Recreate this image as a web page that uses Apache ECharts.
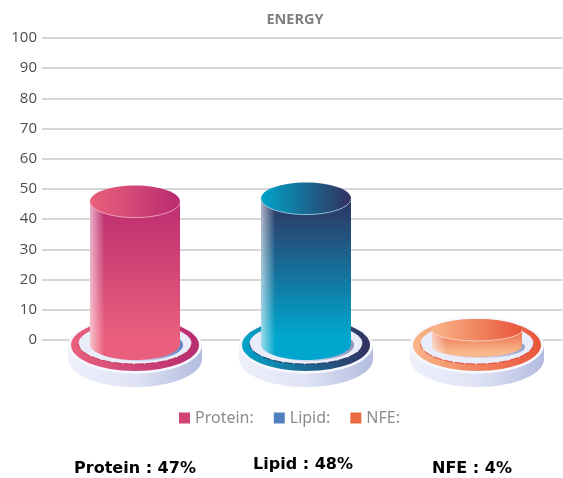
<!DOCTYPE html>
<html><head><meta charset="utf-8">
<style>html,body{margin:0;padding:0;background:#fff}#c{width:563px;height:478px}</style>
<script src="https://cdn.jsdelivr.net/npm/echarts@6/dist/echarts.min.js"></script>
</head><body><div id="c"></div>
<script>
const categories = ['Protein', 'Lipid', 'NFE'];
const seriesNames = ['Protein:', 'Lipid:', 'NFE:'];
const values = [47, 48, 4];
const yTicks = [0, 10, 20, 30, 40, 50, 60, 70, 80, 90, 100];
const captions = ['Protein : 47%', 'Lipid : 48%', 'NFE : 4%'];
const legendColors = ['#d14375', '#4f81bd', '#ec6a3f'];
const palettes = [
  {left:'#e9617c', right:'#b72b70', top:'#bb2d70', bottom:'#e95f7d', edge:'#f6b9c6', dash:'#b81f45', shadow:'#5f86c6'},
  {left:'#00a4c9', right:'#33305e', top:'#2f3360', bottom:'#00a6cd', edge:'#a8e0ee', dash:'#1c2550', shadow:'#8d93b8'},
  {left:'#f9b588', right:'#e8553a', top:'#ea6a4a', bottom:'#f9b88c', edge:'#fde3d3', dash:'#e02f20', shadow:'#8fa0cf'}
];
function lin(x0,y0,x1,y1,stops){return {type:'linear',x:x0,y:y0,x2:x1,y2:y1,colorStops:stops.map(s=>({offset:s[0],color:s[1]}))};}
function ellipse(cx,cy,rx,ry,style,z2){return {type:'ellipse',shape:{cx,cy,rx,ry},style,z2};}
function lowerArc(cx,cy,rx,ry){const p=[];for(let a=0;a<=60;a++){const t=Math.PI*a/60;p.push([cx+rx*Math.cos(t),cy+ry*Math.sin(t)]);}return p;}
function bodyPoints(cx,yTop,yBot,rx,ry){return [[cx-rx,yTop],[cx+rx,yTop],...lowerArc(cx,yBot,rx,ry)];}
function render(idx){
  return function(params,api){
    const pal=palettes[idx];
    const c0=api.coord([api.value(0),0]);
    const c1=api.coord([api.value(0),api.value(1)]);
    const cx=c0[0],y0=c0[1];
    const short=api.value(1)<10;
    const rx=45,ry=short?11:16;
    const yTop=c1[1]+(short?2:3.5);
    const yBot=y0+(short?6:4);
    const ringGrad=lin(0,0,1,0,[[0,pal.left],[1,pal.right]]);
    const kids=[
      {type:'polygon',shape:{points:[[cx-67,y0+5],[cx+67,y0+5],...lowerArc(cx,y0+19,67,28)]},
        style:{fill:lin(0,0,1,0,[[0,'#eef0fb'],[0.5,'#dfe3f5'],[1,'#b3bcdf']])},z2:1},
      ellipse(cx,y0+5,67,28.5,{fill:'#f7f8fe'},2),
      ellipse(cx,y0+5,64,26,{fill:ringGrad},3),
      ellipse(cx,y0+3.5,56.5,20.5,{fill:'#e9ecf9'},4),
      {type:'polyline',shape:{points:lowerArc(cx,y0+3.5,56.5,20.5)},style:{fill:null,stroke:pal.dash,lineWidth:0.8,lineDash:[9,2]},z2:4},
      ellipse(cx+3,yBot+1,45,ry,{fill:lin(0,0,1,0,[[0,'#e9ecf9'],[0.6,'#c7d0ec'],[1,pal.shadow]])},5),
      {type:'polygon',shape:{points:bodyPoints(cx,yTop,yBot,rx,ry)},style:{fill:lin(0,0,0,1,[[0,pal.top],[0.85,pal.bottom],[1,pal.bottom]])},z2:6},
      {type:'polygon',shape:{points:bodyPoints(cx,yTop,yBot,rx,ry)},style:{fill:lin(0,0,1,0,[[0,'rgba(255,255,255,0.62)'],[0.16,'rgba(255,255,255,0)'],[1,'rgba(255,255,255,0)']])},z2:7},
      ellipse(cx,yTop,rx,ry,{fill:lin(0,0,1,0,[[0,pal.left],[1,pal.right]])},8),
      {type:'polyline',shape:{points:lowerArc(cx,yTop,rx,ry)},style:{fill:null,stroke:pal.edge,lineWidth:0.8},z2:9}
    ];
    return {type:'group',children:kids};
  };
}
const chart=echarts.init(document.getElementById('c'),null,{renderer:'canvas'});
const captionPos=[[135,467],[303,463],[472,467]];
chart.setOption({
  animation:false,
  title:{text:'ENERGY',left:290,top:7,textAlign:'center',textStyle:{fontFamily:'Open Sans',fontSize:14.5,fontWeight:'bold',color:'#7f7f7f'}},
  grid:{left:49.5,right:0.5,top:38,height:302},
  legend:{data:seriesNames,left:174,top:405,itemWidth:11,itemHeight:11,itemGap:20,icon:'rect',
    textStyle:{fontFamily:'Noto Sans',fontSize:16,color:'#8c8c8c',letterSpacing:0.6}},
  xAxis:{type:'category',data:categories,show:false},
  yAxis:{type:'value',min:0,max:100,interval:10,
    axisLine:{show:false},
    axisTick:{show:true,length:7.5,lineStyle:{color:'#c9c9c9',width:1.5}},
    axisLabel:{margin:12.5,fontFamily:'Open Sans',fontSize:15,color:'#4d4d4d',
      formatter:v=>yTicks.includes(v)?String(v):''},
    splitLine:{lineStyle:{color:'#c9c9c9',width:1.5}}},
  series:categories.map((c,i)=>({
    type:'custom',name:seriesNames[i],itemStyle:{color:legendColors[i]},
    data:[[c,values[i]]],encode:{x:0,y:1},renderItem:render(i)
  })),
  graphic:captions.map((t,i)=>({type:'text',x:captionPos[i][0],y:captionPos[i][1]+1.5,z:10,
    style:{text:t,textAlign:'center',textVerticalAlign:'middle',font:'bold 16px "DejaVu Sans"',fill:'#000'}}))
});
</script></body></html>
